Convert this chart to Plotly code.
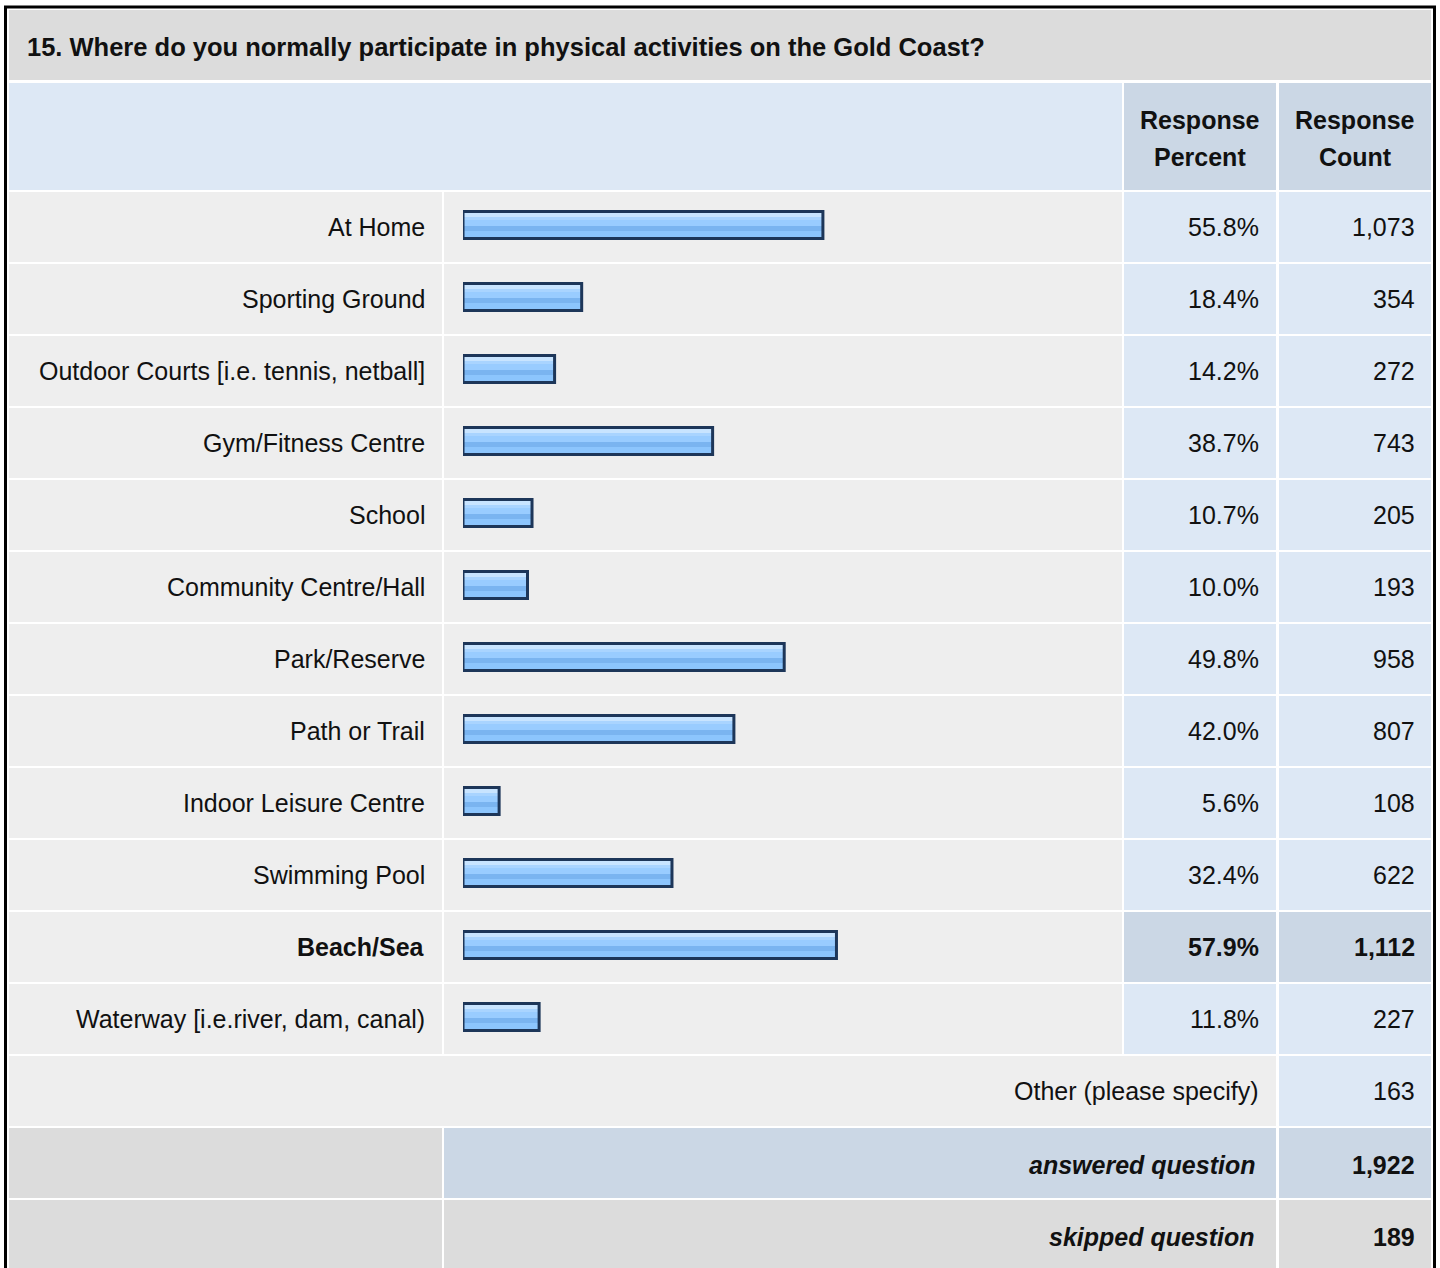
import plotly.graph_objects as go

# ---------------- data ----------------
question_title = "15. Where do you normally participate in physical activities on the Gold Coast?"
answer_options = [
    "At Home",
    "Sporting Ground",
    "Outdoor Courts [i.e. tennis, netball]",
    "Gym/Fitness Centre",
    "School",
    "Community Centre/Hall",
    "Park/Reserve",
    "Path or Trail",
    "Indoor Leisure Centre",
    "Swimming Pool",
    "Beach/Sea",
    "Waterway [i.e.river, dam, canal)",
]
response_percent = [55.8, 18.4, 14.2, 38.7, 10.7, 10.0, 49.8, 42.0, 5.6, 32.4, 57.9, 11.8]
response_count = [1073, 354, 272, 743, 205, 193, 958, 807, 108, 622, 1112, 227]
column_headers = [["Response", "Percent"], ["Response", "Count"]]
other_label = "Other (please specify)"
other_count = 163
summary_labels = ["answered question", "skipped question"]
summary_counts = [1922, 189]

# ---------------- geometry / style ----------------
W, H = 1440, 1268
FONT = "Arial, 'Liberation Sans', sans-serif"
FS = 25
TXT = "#111111"
GRAY = "#eeeeee"
DGRAY = "#dcdcdc"
LBLUE = "#dde8f5"
HBLUE = "#cbd7e5"
NAVY = "#1d3659"

L0, L1 = 9, 442        # label column
B0, B1 = 444, 1122     # bar column
P0, P1 = 1124, 1276    # percent column
C0, C1 = 1279, 1431    # count column
ROW0, PITCH, RH = 192, 72, 70
n = len(answer_options)
top_pick = response_percent.index(max(response_percent))


def fx(x):
    return x / W


def fy(y):
    return 1 - y / H


shapes = []


def cell(x0, x1, y0, y1, color):
    shapes.append(dict(type="rect", xref="paper", yref="paper",
                       x0=fx(x0), x1=fx(x1), y0=fy(y1), y1=fy(y0),
                       fillcolor=color, line=dict(width=0), layer="below"))


annotations = []


def text(s, x, y, anchor="right", bold=False, italic=False, size=FS):
    if bold:
        s = "<b>" + s + "</b>"
    if italic:
        s = "<i>" + s + "</i>"
    annotations.append(dict(text=s, xref="paper", yref="paper", x=fx(x), y=fy(y),
                            xanchor=anchor, yanchor="middle", showarrow=False,
                            font=dict(family=FONT, size=size, color=TXT)))


# title
cell(L0, C1, 10, 80, DGRAY)
text(question_title, 25, 47, anchor="left", bold=True, size=25.5)
# header
cell(L0, B1, 83, 190, LBLUE)
cell(P0, P1, 83, 190, HBLUE)
cell(C0, C1, 83, 190, HBLUE)
for (x0, x1), hdr in zip([(P0, P1), (C0, C1)], column_headers):
    text(hdr[0], (x0 + x1) / 2, 120, anchor="center", bold=True)
    text(hdr[1], (x0 + x1) / 2, 157, anchor="center", bold=True)

# data rows
for i, (lab, pct, cnt) in enumerate(zip(answer_options, response_percent, response_count)):
    y0 = ROW0 + PITCH * i
    y1 = y0 + RH
    yc = y0 + 35
    hi = i == top_pick
    cell(L0, L1, y0, y1, GRAY)
    cell(B0, B1, y0, y1, GRAY)
    cell(P0, P1, y0, y1, HBLUE if hi else LBLUE)
    cell(C0, C1, y0, y1, HBLUE if hi else LBLUE)
    text(lab, 427, yc, bold=hi)
    text(f"{pct:.1f}%", 1261, yc, bold=hi)
    text(f"{cnt:,}", 1417, yc, bold=hi)

# other row
yo = ROW0 + PITCH * n
cell(L0, P1, yo, yo + RH, GRAY)
cell(C0, C1, yo, yo + RH, LBLUE)
text(other_label, 1261, yo + 35)
text(f"{other_count:,}", 1417, yo + 35)

# summary rows
for k, (lab, cnt) in enumerate(zip(summary_labels, summary_counts)):
    y0 = yo + PITCH * (k + 1)
    mid = HBLUE if k == 0 else DGRAY
    cell(L0, L1, y0, y0 + RH, DGRAY)
    cell(B0, P1, y0, y0 + RH, mid)
    cell(C0, C1, y0, y0 + RH, mid)
    text(lab, 1257, y0 + 37, bold=True, italic=True)
    text(f"{cnt:,}", 1417, y0 + 37, bold=True)

# outer frame
shapes.append(dict(type="rect", xref="paper", yref="paper",
                   x0=fx(5.5), x1=fx(1434.5), y0=fy(1300), y1=fy(7),
                   line=dict(color="#000000", width=3), fillcolor="rgba(0,0,0,0)",
                   layer="above"))

# ---------------- bars ----------------
fig = go.Figure()
# bands relative to row top (px): top, bottom, colour
bands = [(19.5, 25, "#c8e4ff"), (25, 28, "#a9d4ff"), (28, 34, "#99ccff"),
         (34, 39, "#7ab4f0"), (39, 46.5, "#8cc5fd")]
for t, b, col in bands:
    fig.add_trace(go.Bar(
        y=answer_options, x=response_percent, orientation="h",
        offset=(t - 36) / PITCH, width=(b - t) / PITCH,
        marker=dict(color=col, line=dict(width=0)),
        hoverinfo="skip", showlegend=False))
fig.add_trace(go.Bar(
    y=answer_options, x=response_percent, orientation="h",
    offset=(19.5 - 36) / PITCH, width=(46.5 - 19.5) / PITCH,
    marker=dict(color="rgba(0,0,0,0)", line=dict(color=NAVY, width=3)),
    hoverinfo="skip", showlegend=False))

fig.update_layout(
    width=W, height=H,
    margin=dict(l=0, r=0, t=0, b=0),
    paper_bgcolor="#ffffff", plot_bgcolor="rgba(0,0,0,0)",
    barmode="overlay",
    xaxis=dict(domain=[fx(463), fx(1108)], range=[0, 100], visible=False,
               fixedrange=True),
    yaxis=dict(domain=[fy(ROW0 + PITCH * n), fy(ROW0)], type="category",
               categoryorder="array", categoryarray=answer_options,
               range=[n - 0.5, -0.5], visible=False, fixedrange=True),
    shapes=shapes, annotations=annotations,
)

fig.write_html("out.html", config={"displayModeBar": False},
               post_script="document.body.style.margin='0px';")
